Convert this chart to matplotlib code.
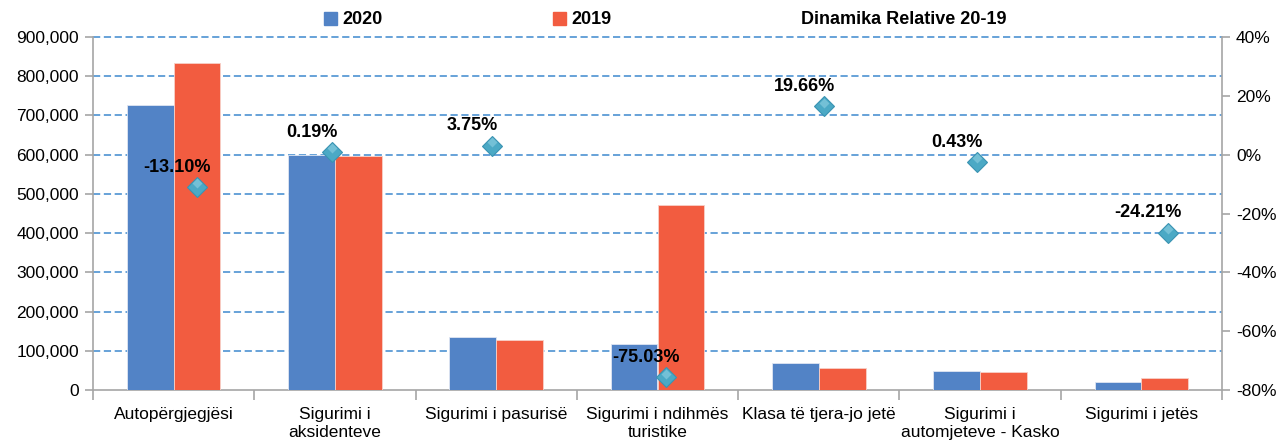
import matplotlib
matplotlib.use('Agg')
import matplotlib.pyplot as plt
import matplotlib.ticker as mticker
from matplotlib.lines import Line2D
from matplotlib.patches import Patch
import numpy as np

# categories and values
categories = ['Autopërgjegjësi', 'Sigurimi i\naksidenteve', 'Sigurimi i pasurisë',
              'Sigurimi i ndihmës\nturistike', 'Klasa të tjera-jo jetë',
              'Sigurimi i\nautomjeteve - Kasko', 'Sigurimi i jetës']
values_2020 = [727000, 599000, 135000, 117000, 68000, 48000, 21000]
values_2019 = [834000, 597000, 128000, 472000, 56000, 47000, 30000]

# relative change labels (%) and where the diamonds sit on the right axis
dynamic_labels = [-13.10, 0.19, 3.75, -75.03, 19.66, 0.43, -24.21]
diamond_values = [-11.0, 0.9, 3.0, -75.6, 16.5, -2.5, -26.6]
diamond_shift = [0.145, -0.018, -0.025, 0.053, 0.033, -0.019, 0.165]

plt.rcParams['font.family'] = ['Liberation Sans Narrow', 'Liberation Sans', 'DejaVu Sans']

blue = '#5283C6'
red = '#F25C40'
grey = '#A6A6A6'

fig = plt.figure(figsize=(12.83, 4.45), dpi=100)
ax = fig.add_axes([93 / 1283, 55 / 445, 1129 / 1283, 353 / 445])

x = np.arange(len(categories))
w = 0.29
ax.bar(x - w / 2, values_2020, w, color=blue, edgecolor='#dfe6f2', linewidth=0.6, zorder=3)
ax.bar(x + w / 2, values_2019, w, color=red, edgecolor='#f7d0c8', linewidth=0.6, zorder=3)

ax.set_xlim(-0.5, len(categories) - 0.5)
ax.set_ylim(0, 900000)
ax.yaxis.set_major_locator(mticker.MultipleLocator(100000))
ax.yaxis.set_major_formatter(mticker.FuncFormatter(lambda v, p: f'{v:,.0f}'))

# dashed grid lines
for g in range(100000, 900001, 100000):
    ax.axhline(g, color='#5B9BD5', linestyle=(0, (4, 2)), linewidth=1.3, zorder=1, clip_on=False)

ax.set_xticks(x)
ax.set_xticklabels(categories, fontsize=12.5, linespacing=1.25)
ax.set_xticks(np.arange(-0.5, len(categories)), minor=True)
ax.tick_params(axis='x', which='major', length=0, pad=12)
ax.tick_params(axis='x', which='minor', length=7, color=grey, width=1.2)
ax.tick_params(axis='y', length=6, color=grey, width=1.2, labelsize=12.5, pad=4)

for side in ['top', 'right']:
    ax.spines[side].set_visible(False)
for side in ['left', 'bottom']:
    ax.spines[side].set_color(grey)
    ax.spines[side].set_linewidth(1.2)

# secondary axis for relative change
ax2 = ax.twinx()
ax2.set_ylim(-80, 40)
ax2.yaxis.set_major_locator(mticker.MultipleLocator(20))
ax2.yaxis.set_major_formatter(mticker.FuncFormatter(lambda v, p: f'{v:.0f}%'))
ax2.tick_params(axis='y', length=6, color=grey, width=1.2, labelsize=12.5, pad=4)
for side in ['top', 'left', 'bottom']:
    ax2.spines[side].set_visible(False)
ax2.spines['right'].set_color(grey)
ax2.spines['right'].set_linewidth(1.2)

dx = x + np.array(diamond_shift)
ax2.plot(dx, diamond_values, linestyle='none', marker='D', markersize=10.5,
         markerfacecolor='#4BA9C5', markeredgecolor='#3A93B2', markeredgewidth=0.8, zorder=5)
ax2.plot(dx, np.array(diamond_values) + 1.2, linestyle='none', marker='D', markersize=5,
         markerfacecolor='#8FD0E2', markeredgecolor='none', alpha=0.6, zorder=6)

for xi, yi, lab in zip(dx, diamond_values, dynamic_labels):
    ax2.annotate(f'{lab:.2f}%', (xi, yi), xytext=(-20, 20), textcoords='offset pixels',
                 ha='center', va='center', fontsize=13, fontweight='bold', zorder=7)

handles = [Patch(color=blue), Patch(color=red), Line2D([], [], linestyle='none')]
fig.legend(handles, ['2020', '2019', 'Dinamika Relative 20-19'], ncol=3,
           loc='center', bbox_to_anchor=(665 / 1283, 1 - 20 / 445), frameon=False,
           prop={'size': 13, 'weight': 'bold'}, handlelength=0.75, handleheight=0.75,
           handletextpad=0.3, columnspacing=9.4)

fig.savefig('out.png', dpi=100)
